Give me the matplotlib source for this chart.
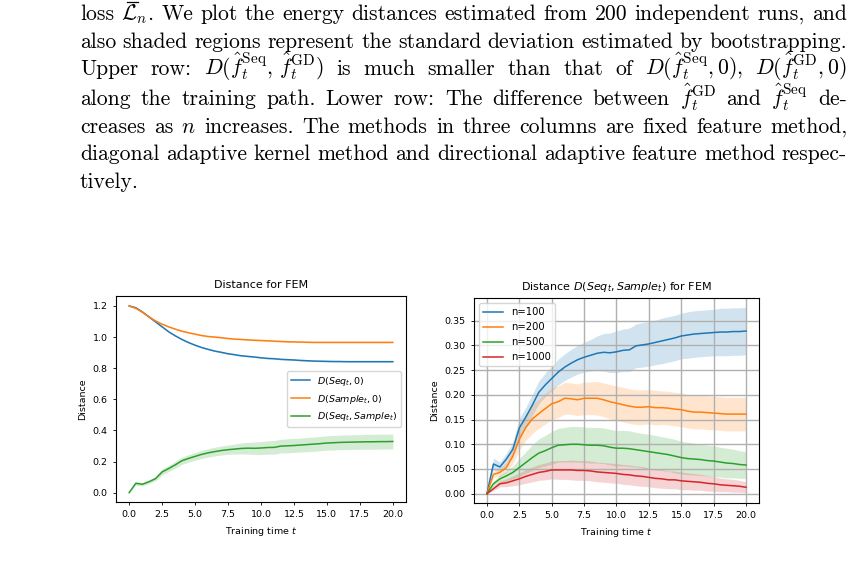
import numpy as np
import matplotlib
matplotlib.use('Agg')
from matplotlib import pyplot as plt

# caption text above the figure (page screenshot)
caption = [
    r"loss $\mathcal{L}{}_n$. We plot the energy distances estimated from 200 independent runs, and",
    "also shaded regions represent the standard deviation estimated by bootstrapping.",
    r"Upper row: $D(\hat{f}{}_t^{\mathrm{Seq}},\,\hat{f}{}_t^{\mathrm{GD}})$ is much smaller than that of $D(\hat{f}{}_t^{\mathrm{Seq}},0),$ $D(\hat{f}{}_t^{\mathrm{GD}},0)$",
    r"along the training path. Lower row: The difference between $\hat{f}{}_t^{\mathrm{GD}}$ and $\hat{f}{}_t^{\mathrm{Seq}}$ de-",
    r"creases as $n$ increases. The methods in three columns are fixed feature method,",
    "diagonal adaptive kernel method and directional adaptive feature method respec-",
    "tively.",
]
baselines = [20, 48, 75, 105, 133, 160, 188]

t = np.linspace(0, 20, 41)

# left panel
seq0 = [1.200, 1.189, 1.162, 1.130, 1.098, 1.066, 1.034, 1.008, 0.985, 0.965, 0.948,
        0.933, 0.921, 0.910, 0.902, 0.893, 0.887, 0.880, 0.876, 0.872, 0.867,
        0.863, 0.861, 0.857, 0.855, 0.853, 0.850, 0.848, 0.846, 0.845, 0.844,
        0.843, 0.843, 0.842, 0.842, 0.842, 0.842, 0.842, 0.842, 0.842, 0.842]
sample0 = [1.200, 1.185, 1.160, 1.130, 1.104, 1.083, 1.066, 1.051, 1.038, 1.028, 1.019,
           1.010, 1.004, 1.000, 0.996, 0.991, 0.987, 0.985, 0.982, 0.980, 0.978,
           0.976, 0.974, 0.972, 0.970, 0.969, 0.968, 0.967, 0.966, 0.966, 0.966,
           0.966, 0.966, 0.966, 0.966, 0.966, 0.966, 0.966, 0.966, 0.966, 0.966]
seq0_sd = [0.004] * 41
sample0_sd = [0.004] * 41

# right panel: D(Seq_t, Sample_t) for several n
d100 = [0.000, 0.060, 0.054, 0.070, 0.090, 0.133, 0.155, 0.179, 0.205, 0.220, 0.233,
        0.246, 0.256, 0.264, 0.271, 0.276, 0.280, 0.284, 0.286, 0.285, 0.287,
        0.290, 0.291, 0.299, 0.301, 0.303, 0.306, 0.309, 0.312, 0.315, 0.319,
        0.321, 0.323, 0.324, 0.325, 0.326, 0.327, 0.327, 0.328, 0.328, 0.329]
sd100 = [0.000, 0.012, 0.010, 0.012, 0.014, 0.020, 0.020, 0.022, 0.023, 0.024, 0.025,
         0.026, 0.027, 0.028, 0.029, 0.030, 0.032, 0.035, 0.038, 0.040, 0.042,
         0.043, 0.044, 0.044, 0.045, 0.045, 0.045, 0.046, 0.046, 0.046, 0.046,
         0.047, 0.047, 0.047, 0.047, 0.047, 0.048, 0.048, 0.048, 0.048, 0.048]
d200 = [0.000, 0.039, 0.043, 0.053, 0.076, 0.110, 0.134, 0.151, 0.162, 0.172, 0.182,
        0.186, 0.193, 0.192, 0.190, 0.193, 0.193, 0.193, 0.190, 0.186, 0.183,
        0.180, 0.177, 0.175, 0.175, 0.176, 0.174, 0.174, 0.173, 0.171, 0.170,
        0.167, 0.165, 0.165, 0.164, 0.163, 0.162, 0.161, 0.161, 0.161, 0.161]
sd200 = [0.000, 0.006, 0.008, 0.010, 0.015, 0.022, 0.026, 0.029, 0.030, 0.031, 0.032,
         0.032, 0.032, 0.032, 0.032, 0.033, 0.033, 0.034, 0.034, 0.035, 0.035,
         0.035, 0.035, 0.035, 0.035, 0.035, 0.035, 0.034, 0.034, 0.034, 0.034,
         0.034, 0.034, 0.034, 0.034, 0.034, 0.034, 0.034, 0.034, 0.034, 0.034]
d500 = [0.000, 0.020, 0.030, 0.036, 0.043, 0.053, 0.063, 0.073, 0.082, 0.087, 0.093,
        0.098, 0.099, 0.100, 0.100, 0.099, 0.098, 0.098, 0.097, 0.094, 0.092,
        0.092, 0.091, 0.089, 0.087, 0.085, 0.083, 0.081, 0.079, 0.076, 0.073,
        0.071, 0.070, 0.069, 0.067, 0.066, 0.064, 0.062, 0.061, 0.059, 0.058]
sd500 = [0.000, 0.005, 0.008, 0.010, 0.013, 0.018, 0.022, 0.026, 0.029, 0.031, 0.033,
         0.034, 0.035, 0.036, 0.036, 0.036, 0.036, 0.036, 0.036, 0.036, 0.036,
         0.036, 0.036, 0.035, 0.035, 0.035, 0.035, 0.034, 0.034, 0.034, 0.033,
         0.033, 0.032, 0.032, 0.031, 0.031, 0.030, 0.030, 0.029, 0.028, 0.027]
d1000 = [0.000, 0.010, 0.020, 0.022, 0.026, 0.030, 0.035, 0.039, 0.043, 0.045, 0.048,
         0.048, 0.048, 0.048, 0.047, 0.047, 0.046, 0.044, 0.043, 0.042, 0.041,
         0.039, 0.038, 0.036, 0.035, 0.033, 0.031, 0.030, 0.028, 0.028, 0.026,
         0.025, 0.024, 0.023, 0.021, 0.020, 0.018, 0.017, 0.016, 0.015, 0.013]
sd1000 = [0.000, 0.004, 0.006, 0.008, 0.010, 0.012, 0.014, 0.015, 0.016, 0.017, 0.018,
          0.019, 0.019, 0.020, 0.020, 0.020, 0.020, 0.020, 0.020, 0.020, 0.020,
          0.020, 0.020, 0.020, 0.020, 0.019, 0.019, 0.019, 0.018, 0.018, 0.018,
          0.017, 0.017, 0.016, 0.016, 0.015, 0.014, 0.013, 0.013, 0.012, 0.011]

n_labels = ['n=100', 'n=200', 'n=500', 'n=1000']

plt.rcParams['font.size'] = 6.8
plt.rcParams['axes.linewidth'] = 0.8
plt.rcParams['xtick.major.size'] = 2.5
plt.rcParams['ytick.major.size'] = 2.5
plt.rcParams['xtick.major.width'] = 0.6
plt.rcParams['ytick.major.width'] = 0.6

W, H = 853, 582
fig = plt.figure(figsize=(W / 100, H / 100), dpi=100)
renderer = fig.canvas.get_renderer()

# justified caption lines
fs = 15.6
left, right = 80, 847
placed = []
for i, line in enumerate(caption):
    y = 1 - baselines[i] / H
    words = line.split(' ')
    ts = [fig.text(0, y, w, fontsize=fs, family='cmr10', math_fontfamily='cm',
                   va='baseline') for w in words]
    ws = [tt.get_window_extent(renderer).width for tt in ts]
    if i < len(caption) - 1:
        gap = (right - left - sum(ws)) / (len(ws) - 1)
    else:
        gap = fs * 100 / 72 * 0.333
    x = left
    xs = []
    for tt, w in zip(ts, ws):
        tt.set_x(x / W)
        xs.append(x)
        x += w + gap
    placed.append(xs)

# bar over the calligraphic L (mathtext's \bar does not show in cm here)
tmp = fig.text(0, 0, r'$\mathcal{L}$', fontsize=fs, math_fontfamily='cm')
wl = tmp.get_window_extent(renderer).width
tmp.remove()
xl = placed[0][1]
ybar = 1 - (baselines[0] - 18.3) / H
fig.add_artist(plt.Line2D([(xl + 0.35 * wl) / W, (xl + 1.0 * wl) / W], [ybar, ybar],
                          color='black', lw=0.9, transform=fig.transFigure))

# left panel
ax1 = fig.add_axes([116 / W, 1 - 502 / H, 290 / W, 206 / H])
for y, sd, lab in [(seq0, seq0_sd, r'$D(Seq_t, 0)$'),
                   (sample0, sample0_sd, r'$D(Sample_t, 0)$'),
                   (d100, sd100, r'$D(Seq_t, Sample_t)$')]:
    y = np.array(y)
    sd = np.array(sd)
    l, = ax1.plot(t, y, lw=1.1, label=lab)
    ax1.fill_between(t, y - sd, y + sd, color=l.get_color(), alpha=0.2, lw=0)
ax1.set_title('Distance for FEM', fontsize=8.0)
ax1.set_xlabel('Training time $t$')
ax1.set_ylabel('Distance')
ax1.set_xticks(np.arange(0, 20.1, 2.5))
ax1.set_yticks([0.0, 0.2, 0.4, 0.6, 0.8, 1.0, 1.2])
ax1.legend(loc='center right')

# right panel
ax2 = fig.add_axes([474 / W, 1 - 503 / H, 285 / W, 205 / H])
for y, sd, lab in zip([d100, d200, d500, d1000], [sd100, sd200, sd500, sd1000], n_labels):
    y = np.array(y)
    sd = np.array(sd)
    l, = ax2.plot(t, y, lw=1.1, label=lab)
    ax2.fill_between(t, y - sd, y + sd, color=l.get_color(), alpha=0.2, lw=0)
ax2.grid(True, color='#b0b0b0', lw=1.0)
ax2.set_title(r'Distance $D(Seq_t, Sample_t)$ for FEM', fontsize=8.0)
ax2.set_xlabel('Training time $t$')
ax2.set_ylabel('Distance')
ax2.set_xticks(np.arange(0, 20.1, 2.5))
ax2.set_yticks([0.0, 0.05, 0.10, 0.15, 0.20, 0.25, 0.30, 0.35])
ax2.legend(loc='upper left', fontsize=7.2)

fig.savefig('out.png', dpi=100)
